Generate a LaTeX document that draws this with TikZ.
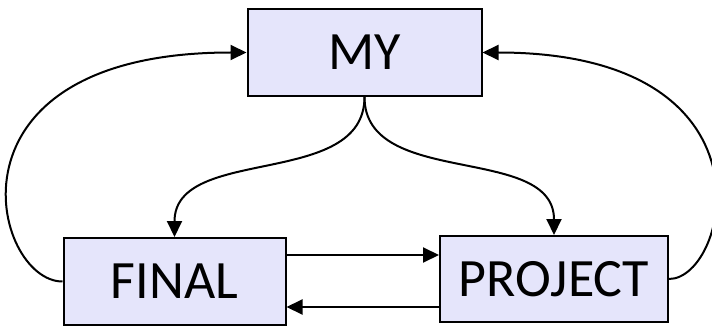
\documentclass[tikz,border=0pt]{standalone}
\usepackage{fontspec}
\setmainfont{Carlito}
\usetikzlibrary{arrows.meta}
\definecolor{boxfill}{RGB}{229,229,251}

\begin{document}
\begin{tikzpicture}[x=1pt,y=-1pt,
   every node/.style={draw,line width=2pt,fill=boxfill,inner sep=0pt,
     font=\fontsize{54}{60}\selectfont},
   link/.style={line width=2pt,-{Triangle[length=16pt,width=15pt]}}]
\useasboundingbox (0,0) rectangle (712,326);
\node[minimum width=234pt,minimum height=87pt] (my) at (364.5,52.5) {MY};
\node[minimum width=222pt,minimum height=87pt] (final) at (174.5,281.5) {FINAL};
\node[minimum width=228pt,minimum height=86pt] (project) at (554,279) {PROJECT};
% loops back up to MY
\draw[link] (final.west) .. controls +(-70,0) and +(-313,0) .. (my.west);
\draw[link] (project.east) .. controls +(60,0) and +(300,0) .. (my.east);
% MY down to both
\draw[link] (my.south) to[out=-90,in=90] (final.north);
\draw[link] (my.south) to[out=-90,in=90] (project.north);
% between FINAL and PROJECT
\draw[link] ([yshift=26.5pt]final.east) -- ([yshift=24pt]project.west);
\draw[link] ([yshift=-28pt]project.west) -- ([yshift=-25.5pt]final.east);
\end{tikzpicture}
\end{document}
